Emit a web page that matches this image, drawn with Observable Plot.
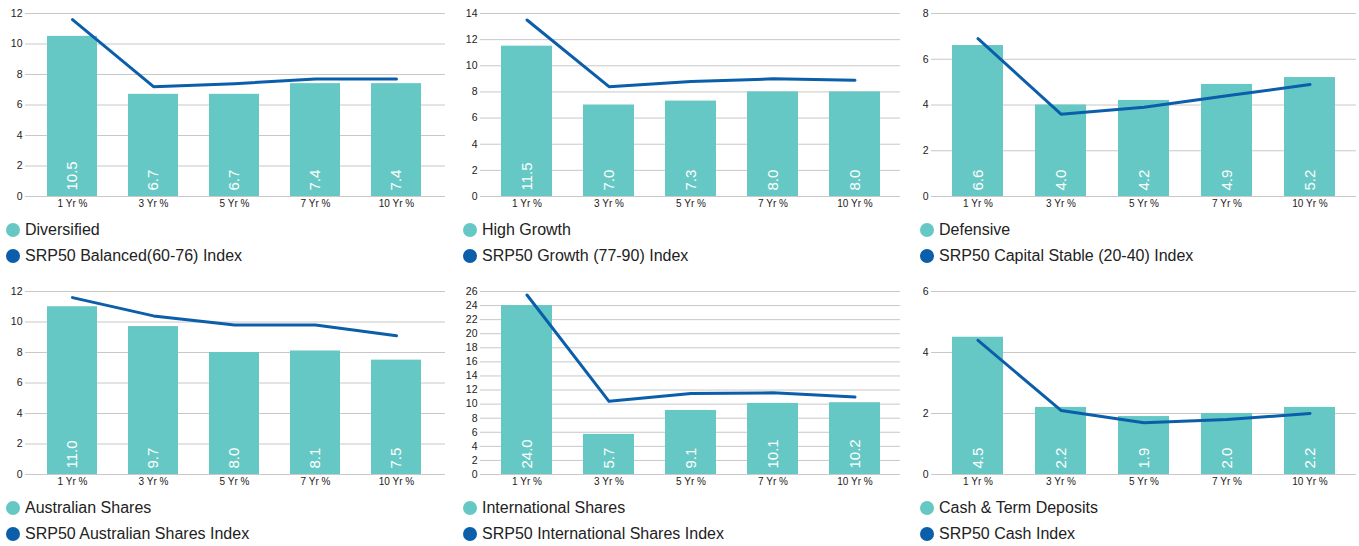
<!DOCTYPE html>
<html>
<head>
<meta charset="utf-8">
<script src="https://cdn.jsdelivr.net/npm/d3@7"></script>
<script src="https://cdn.jsdelivr.net/npm/@observablehq/plot@0.6"></script>
<style>
  html, body { margin: 0; padding: 0; background: #fff; }
  body { width: 1359px; height: 546px; position: relative; overflow: hidden; font-family: "Liberation Sans", Arial, sans-serif; color: #222; }
  .panel { position: absolute; width: 453px; height: 270px; }
  .panel svg { position: absolute; left: 0; top: 0; overflow: visible; }
  .legend { position: absolute; top: 217px; }
  .item { height: 26px; display: flex; align-items: center; font-size: 16px; color: #222; white-space: nowrap; }
  .dot { width: 14px; height: 14px; border-radius: 50%; margin-right: 5px; flex: none; }
</style>
</head>
<body>
<script>
// ---- data ----
const periods = ["1 Yr %", "3 Yr %", "5 Yr %", "7 Yr %", "10 Yr %"];
const fundNames = ["Diversified", "High Growth", "Defensive", "Australian Shares", "International Shares", "Cash & Term Deposits"];
const indexNames = ["SRP50 Balanced(60-76) Index", "SRP50 Growth (77-90) Index", "SRP50 Capital Stable (20-40) Index", "SRP50 Australian Shares Index", "SRP50 International Shares Index", "SRP50 Cash Index"];
const diversified = [10.5, 6.7, 6.7, 7.4, 7.4];
const highGrowth = [11.5, 7.0, 7.3, 8.0, 8.0];
const defensive = [6.6, 4.0, 4.2, 4.9, 5.2];
const ausShares = [11.0, 9.7, 8.0, 8.1, 7.5];
const intlShares = [24.0, 5.7, 9.1, 10.1, 10.2];
const cashTerm = [4.5, 2.2, 1.9, 2.0, 2.2];
const balancedIdx = [11.6, 7.2, 7.4, 7.7, 7.7];
const growthIdx = [13.5, 8.4, 8.8, 9.0, 8.9];
const capStableIdx = [6.9, 3.6, 3.9, 4.4, 4.9];
const ausSharesIdx = [11.6, 10.4, 9.8, 9.8, 9.1];
const intlSharesIdx = [25.5, 10.4, 11.5, 11.6, 11.0];
const cashIdx = [4.4, 2.1, 1.7, 1.8, 2.0];
const yMaxes = [12, 14, 8, 12, 26, 6];
const yTickStep = 2;

const fundSeries = [diversified, highGrowth, defensive, ausShares, intlShares, cashTerm];
const indexSeries = [balancedIdx, growthIdx, capStableIdx, ausSharesIdx, intlSharesIdx, cashIdx];

// ---- layout (per column) ----
const colLayout = [
  {ml: 25, mr: 8, il: 4.6, ir: 6.6, legendLeft: 6},
  {ml: 27, mr: 6, il: 5.5, ir: 4.5, legendLeft: 10},
  {ml: 25, mr: 3, il: 4.4, ir: 4.6, legendLeft: 14}
];
const barColor = "#66c8c4";
const lineColor = "#0b5ea9";

for (let k = 0; k < 6; k++) {
  const col = k % 3, row = Math.floor(k / 3);
  const L = colLayout[col];
  const rows = periods.map((p, i) => ({period: p, fund: fundSeries[k][i], index: indexSeries[k][i]}));
  const ticks = d3.range(0, yMaxes[k] + 0.001, yTickStep);

  const panel = document.createElement("div");
  panel.className = "panel";
  panel.style.left = (col * 453) + "px";
  panel.style.top = (row * 278) + "px";
  document.body.appendChild(panel);

  const chart = Plot.plot({
    width: 453,
    height: 212,
    marginLeft: L.ml,
    marginRight: L.mr,
    marginTop: 13,
    marginBottom: 16,
    style: {fontFamily: "'Liberation Sans', Arial, sans-serif", color: "#222", background: "transparent", overflow: "visible"},
    x: {domain: periods, paddingInner: 0.38, paddingOuter: 0.19, insetLeft: L.il, insetRight: L.ir, label: null, tickSize: 0, tickPadding: 3},
    y: {domain: [0, yMaxes[k]], ticks: ticks, tickFormat: d3.format("d"), label: null, tickSize: 0, tickPadding: 3},
    marks: [
      Plot.ruleY(ticks, {stroke: "#c8c8c8", strokeWidth: 1}),
      Plot.barY(rows, {x: "period", y: "fund", fill: barColor}),
      Plot.text(rows, {x: "period", y: 0, text: d => d.fund.toFixed(1), rotate: -90, textAnchor: "start", dy: -6, fill: "white", fontSize: 15}),
      Plot.line(rows, {x: "period", y: "index", stroke: lineColor, strokeWidth: 3})
    ]
  });
  chart.querySelectorAll("g[aria-label='x-axis tick label'] text, g[aria-label='x-axis'] text").forEach(t => t.style.fontSize = "10px");
  chart.querySelectorAll("g[aria-label='y-axis tick label'] text, g[aria-label='y-axis'] text").forEach(t => t.style.fontSize = "10.5px");
  panel.appendChild(chart);

  const legend = document.createElement("div");
  legend.className = "legend";
  legend.style.left = L.legendLeft + "px";
  [[fundNames[k], barColor], [indexNames[k], lineColor]].forEach(([name, color]) => {
    const item = document.createElement("div");
    item.className = "item";
    const dot = document.createElement("span");
    dot.className = "dot";
    dot.style.background = color;
    const label = document.createElement("span");
    label.textContent = name;
    item.appendChild(dot);
    item.appendChild(label);
    legend.appendChild(item);
  });
  panel.appendChild(legend);
}
</script>
</body>
</html>
